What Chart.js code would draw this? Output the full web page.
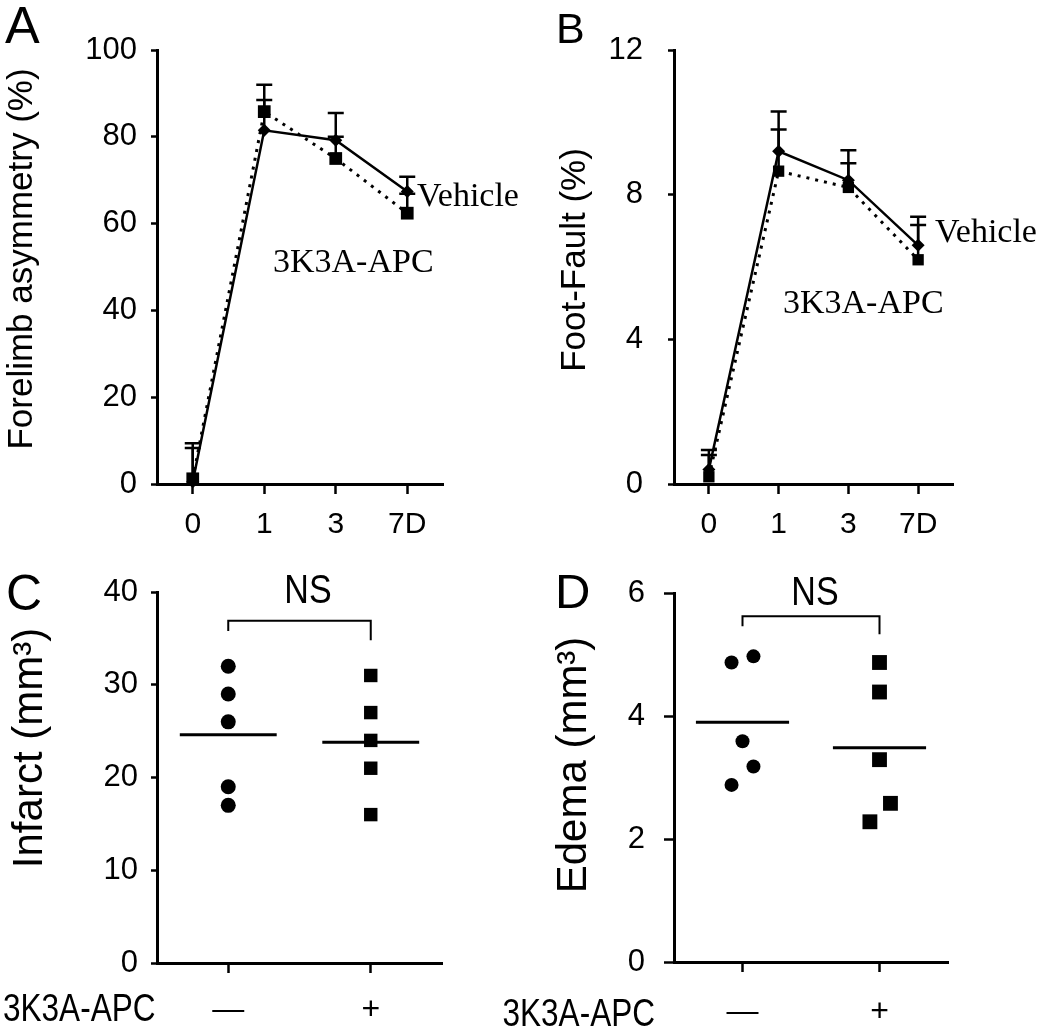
<!DOCTYPE html>
<html><head><meta charset="utf-8">
<script src="https://cdn.jsdelivr.net/npm/chart.js@4.4.1/dist/chart.umd.min.js"></script>
<style>
html,body{margin:0;padding:0;background:#fff;}
#wrap{position:relative;width:1050px;height:1036px;overflow:hidden;background:#fff;}
canvas{position:absolute;}
</style></head><body>
<div id="wrap">
<canvas id="cA"></canvas>
<canvas id="cB"></canvas>
<canvas id="cC"></canvas>
<canvas id="cD"></canvas>
</div>
<script>
// ---------- DATA ----------
const days = ['0', '1', '3', '7D'];
const forelimbVehicle = [0.5, 81.5, 79.2, 67.4];
const forelimbVehicleErr = [8.9, 7.0, 6.3, 3.4];
const forelimbAPC = [1.2, 85.8, 75.0, 62.4];
const forelimbAPCErr = [7.1, 6.2, 5.0, 4.5];

const footVehicle = [0.4, 9.2, 8.4, 6.6];
const footVehicleErr = [0.54, 1.1, 0.83, 0.79];
const footAPC = [0.2, 8.65, 8.2, 6.2];
const footAPCErr = [0.6, 1.15, 0.67, 0.96];

const groups = ['\u2014', '+'];
const infarctVehicle = [32, 29, 26, 19, 17];
const infarctAPC = [31, 27, 24, 21, 16];
const edemaVehicle = [4.87, 4.97, 3.59, 3.18, 2.88];
const edemaVehicleX = [0.92, 1.08, 1.0, 1.08, 0.92];
const edemaAPC = [4.87, 4.39, 3.29, 2.58, 2.28];
const edemaAPCX = [2.0, 2.0, 2.0, 2.08, 1.93];

// ---------- STYLE ----------
const FONT = "'Liberation Sans', Arial, Helvetica, sans-serif";
const SERIF = "'Liberation Serif', 'Times New Roman', serif";
const NARROW_X = 0.83; // horizontal condensing for the narrow-looking labels
Chart.defaults.color = '#000';
Chart.defaults.animation = false;

const mean = a => a.reduce((s, v) => s + v, 0) / a.length;

function drawText(ctx, t) {
  ctx.save();
  ctx.fillStyle = '#000';
  ctx.font = t.font;
  ctx.textAlign = t.align || 'left';
  ctx.textBaseline = t.baseline || 'alphabetic';
  ctx.translate(t.x, t.y);
  if (t.rot) ctx.rotate(t.rot * Math.PI / 180);
  if (t.sx) ctx.scale(t.sx, 1);
  ctx.fillText(t.text, 0, 0);
  ctx.restore();
}

function makePanel(id, rect, area, spec) {
  const canvas = document.getElementById(id);
  canvas.width = rect.w; canvas.height = rect.h;
  canvas.style.left = rect.left + 'px'; canvas.style.top = rect.top + 'px';
  canvas.style.width = rect.w + 'px'; canvas.style.height = rect.h + 'px';

  const overlay = {
    id: 'overlay_' + id,
    beforeDatasetsDraw(chart) {
      const ctx = chart.ctx, ys = chart.scales.y;
      chart.data.datasets.forEach((ds, i) => {
        if (!ds.errors) return;
        const meta = chart.getDatasetMeta(i);
        meta.data.forEach((el, j) => {
          const v = ds.data[j];
          const top = ys.getPixelForValue(v + ds.errors[j]);
          ctx.save();
          ctx.strokeStyle = '#000';
          ctx.lineWidth = 2.5;
          ctx.beginPath();
          ctx.moveTo(el.x, el.y); ctx.lineTo(el.x, top);
          ctx.moveTo(el.x - 8, top); ctx.lineTo(el.x + 8, top);
          ctx.stroke();
          ctx.restore();
        });
      });
    },
    afterDraw(chart) {
      const ctx = chart.ctx;
      if (spec.bracket) {
        const b = spec.bracket, xs = chart.scales.x, ys = chart.scales.y;
        const x1 = xs.getPixelForValue(b.x1), x2 = xs.getPixelForValue(b.x2);
        ctx.save();
        ctx.strokeStyle = '#000'; ctx.lineWidth = 2;
        ctx.beginPath();
        ctx.moveTo(x1, ys.getPixelForValue(b.yL));
        ctx.lineTo(x1, ys.getPixelForValue(b.yTop));
        ctx.lineTo(x2, ys.getPixelForValue(b.yTop));
        ctx.lineTo(x2, ys.getPixelForValue(b.yR));
        ctx.stroke();
        ctx.restore();
      }
      (spec.texts || []).forEach(t => drawText(ctx, Object.assign({}, t, {x: t.x - rect.left, y: t.y - rect.top})));
    }
  };

  const x = Object.assign({
    offset: spec.xScale.type === 'category',
    grid: {drawOnChartArea: false, drawTicks: true, tickLength: 10, tickWidth: 2.5, tickColor: '#000'},
    border: {display: true, color: '#000', width: 3},
    afterFit(s) { s.height = rect.top + rect.h - area.b; }
  }, spec.xScale);
  x.ticks = Object.assign({color: '#000', font: spec.xFont, padding: spec.xPad, maxRotation: 0, autoSkip: false},
                          spec.xScale.ticks || {});
  const y = {
    type: 'linear', min: spec.yMin, max: spec.yMax,
    grid: {drawOnChartArea: false, drawTicks: true, tickLength: spec.yTickLen, tickWidth: 2.5, tickColor: '#000'},
    border: {display: true, color: '#000', width: 3},
    ticks: {stepSize: spec.yStep, color: '#000', font: {family: FONT, size: 31}, padding: spec.yPad},
    afterFit(s) { s.width = area.l - rect.left; }
  };

  return new Chart(canvas, {
    data: spec.data,
    options: {
      responsive: false,
      animation: false,
      devicePixelRatio: 1,
      layout: {padding: {left: 0, top: area.t - rect.top, right: rect.left + rect.w - area.r, bottom: 0}},
      plugins: {legend: {display: false}, tooltip: {enabled: false}},
      scales: {x: x, y: y}
    },
    plugins: [overlay]
  });
}

function lineDatasets(veh, vehErr, apc, apcErr, sqR) {
  return [
    {type: 'line', label: '3K3A-APC', data: apc, errors: apcErr, borderColor: '#000', backgroundColor: '#000',
     borderWidth: 3, borderDash: [3, 6], pointStyle: 'rect', pointRadius: sqR, pointBorderWidth: 0, clip: false, tension: 0},
    {type: 'line', label: 'Vehicle', data: veh, errors: vehErr, borderColor: '#000', backgroundColor: '#000',
     borderWidth: 2.5, pointStyle: 'rectRot', pointRadius: 6.5, pointBorderWidth: 0, clip: false, tension: 0}
  ];
}

function meanLine(values, xc) {
  const m = mean(values);
  return {type: 'line', data: [{x: xc - 0.34, y: m}, {x: xc + 0.34, y: m}], borderColor: '#000',
          borderWidth: 3, pointRadius: 0, clip: false};
}

function groupScale() {
  return {
    type: 'linear', min: 0.5, max: 2.5,
    afterBuildTicks(s) { s.ticks = [{value: 1}, {value: 2}]; },
    ticks: {callback: v => groups[Math.round(v) - 1] || ''}
  };
}

// ---------- PANEL A ----------
makePanel('cA', {left: 0, top: 0, w: 535, h: 550}, {l: 157, t: 50, r: 443, b: 484}, {
  xScale: {type: 'category', labels: days},
  xFont: {family: FONT, size: 30}, xPad: 13,
  yMin: 0, yMax: 100, yStep: 20, yTickLen: 6, yPad: 14,
  data: {labels: days, datasets: lineDatasets(forelimbVehicle, forelimbVehicleErr, forelimbAPC, forelimbAPCErr, 9)},
  texts: [
    {text: 'A', x: 5, y: 43, font: '52px ' + FONT},
    {text: 'Forelimb asymmetry (%)', x: 32, y: 259, rot: -90, align: 'center', font: '35px ' + FONT},
    {text: 'Vehicle', x: 417, y: 206, font: '34px ' + SERIF},
    {text: '3K3A-APC', x: 273, y: 272, font: '34px ' + SERIF}
  ]
});

// ---------- PANEL B ----------
makePanel('cB', {left: 535, top: 0, w: 515, h: 550}, {l: 674, t: 50, r: 953, b: 484}, {
  xScale: {type: 'category', labels: days},
  xFont: {family: FONT, size: 30}, xPad: 13,
  yMin: 0, yMax: 12, yStep: 4, yTickLen: 6, yPad: 25,
  data: {labels: days, datasets: lineDatasets(footVehicle, footVehicleErr, footAPC, footAPCErr, 8)},
  texts: [
    {text: 'B', x: 556, y: 43, font: '43px ' + FONT},
    {text: 'Foot-Fault (%)', x: 585, y: 260, rot: -90, align: 'center', font: '35px ' + FONT},
    {text: 'Vehicle', x: 935, y: 242, font: '34px ' + SERIF},
    {text: '3K3A-APC', x: 783, y: 313, font: '34px ' + SERIF}
  ]
});

// ---------- PANEL C ----------
makePanel('cC', {left: 0, top: 555, w: 520, h: 481}, {l: 157, t: 592, r: 442, b: 963}, {
  xScale: groupScale(),
  xFont: {family: FONT, size: 32}, xPad: 18,
  yMin: 0, yMax: 40, yStep: 10, yTickLen: 6, yPad: 13,
  data: {datasets: [
    {type: 'scatter', data: infarctVehicle.map(v => ({x: 1, y: v})), pointStyle: 'circle', pointRadius: 7.5,
     backgroundColor: '#000', borderColor: '#000', pointBorderWidth: 0, clip: false},
    {type: 'scatter', data: infarctAPC.map(v => ({x: 2, y: v})), pointStyle: 'rect', pointRadius: 9.5,
     backgroundColor: '#000', borderColor: '#000', pointBorderWidth: 0, clip: false},
    meanLine(infarctVehicle, 1), meanLine(infarctAPC, 2)
  ]},
  bracket: {x1: 1, x2: 2, yL: 35.8, yTop: 36.9, yR: 34.8},
  texts: [
    {text: 'C', x: 6, y: 610, font: '50px ' + FONT},
    {text: 'Infarct (mm\u00B3)', x: 42, y: 748, rot: -90, align: 'center', font: '42px ' + FONT},
    {text: 'NS', x: 308, y: 603, align: 'center', font: '41px ' + FONT, sx: NARROW_X},
    {text: '3K3A-APC', x: 3, y: 1021, font: '38px ' + FONT, sx: NARROW_X}
  ]
});

// ---------- PANEL D ----------
makePanel('cD', {left: 495, top: 555, w: 555, h: 481}, {l: 674, t: 593, r: 948, b: 962}, {
  xScale: groupScale(),
  xFont: {family: FONT, size: 32}, xPad: 21,
  yMin: 0, yMax: 6, yStep: 2, yTickLen: 10, yPad: 19,
  data: {datasets: [
    {type: 'scatter', data: edemaVehicle.map((v, i) => ({x: edemaVehicleX[i], y: v})), pointStyle: 'circle', pointRadius: 7,
     backgroundColor: '#000', borderColor: '#000', pointBorderWidth: 0, clip: false},
    {type: 'scatter', data: edemaAPC.map((v, i) => ({x: edemaAPCX[i], y: v})), pointStyle: 'rect', pointRadius: 10.5,
     backgroundColor: '#000', borderColor: '#000', pointBorderWidth: 0, clip: false},
    meanLine(edemaVehicle, 1), meanLine(edemaAPC, 2)
  ]},
  bracket: {x1: 1, x2: 2, yL: 5.46, yTop: 5.62, yR: 5.33},
  texts: [
    {text: 'D', x: 555, y: 608, font: '49px ' + FONT},
    {text: 'Edema (mm\u00B3)', x: 586, y: 765, rot: -90, align: 'center', font: '42px ' + FONT},
    {text: 'NS', x: 815, y: 605, align: 'center', font: '41px ' + FONT, sx: NARROW_X},
    {text: '3K3A-APC', x: 655, y: 1026, align: 'right', font: '38px ' + FONT, sx: NARROW_X}
  ]
});
</script>
</body></html>
